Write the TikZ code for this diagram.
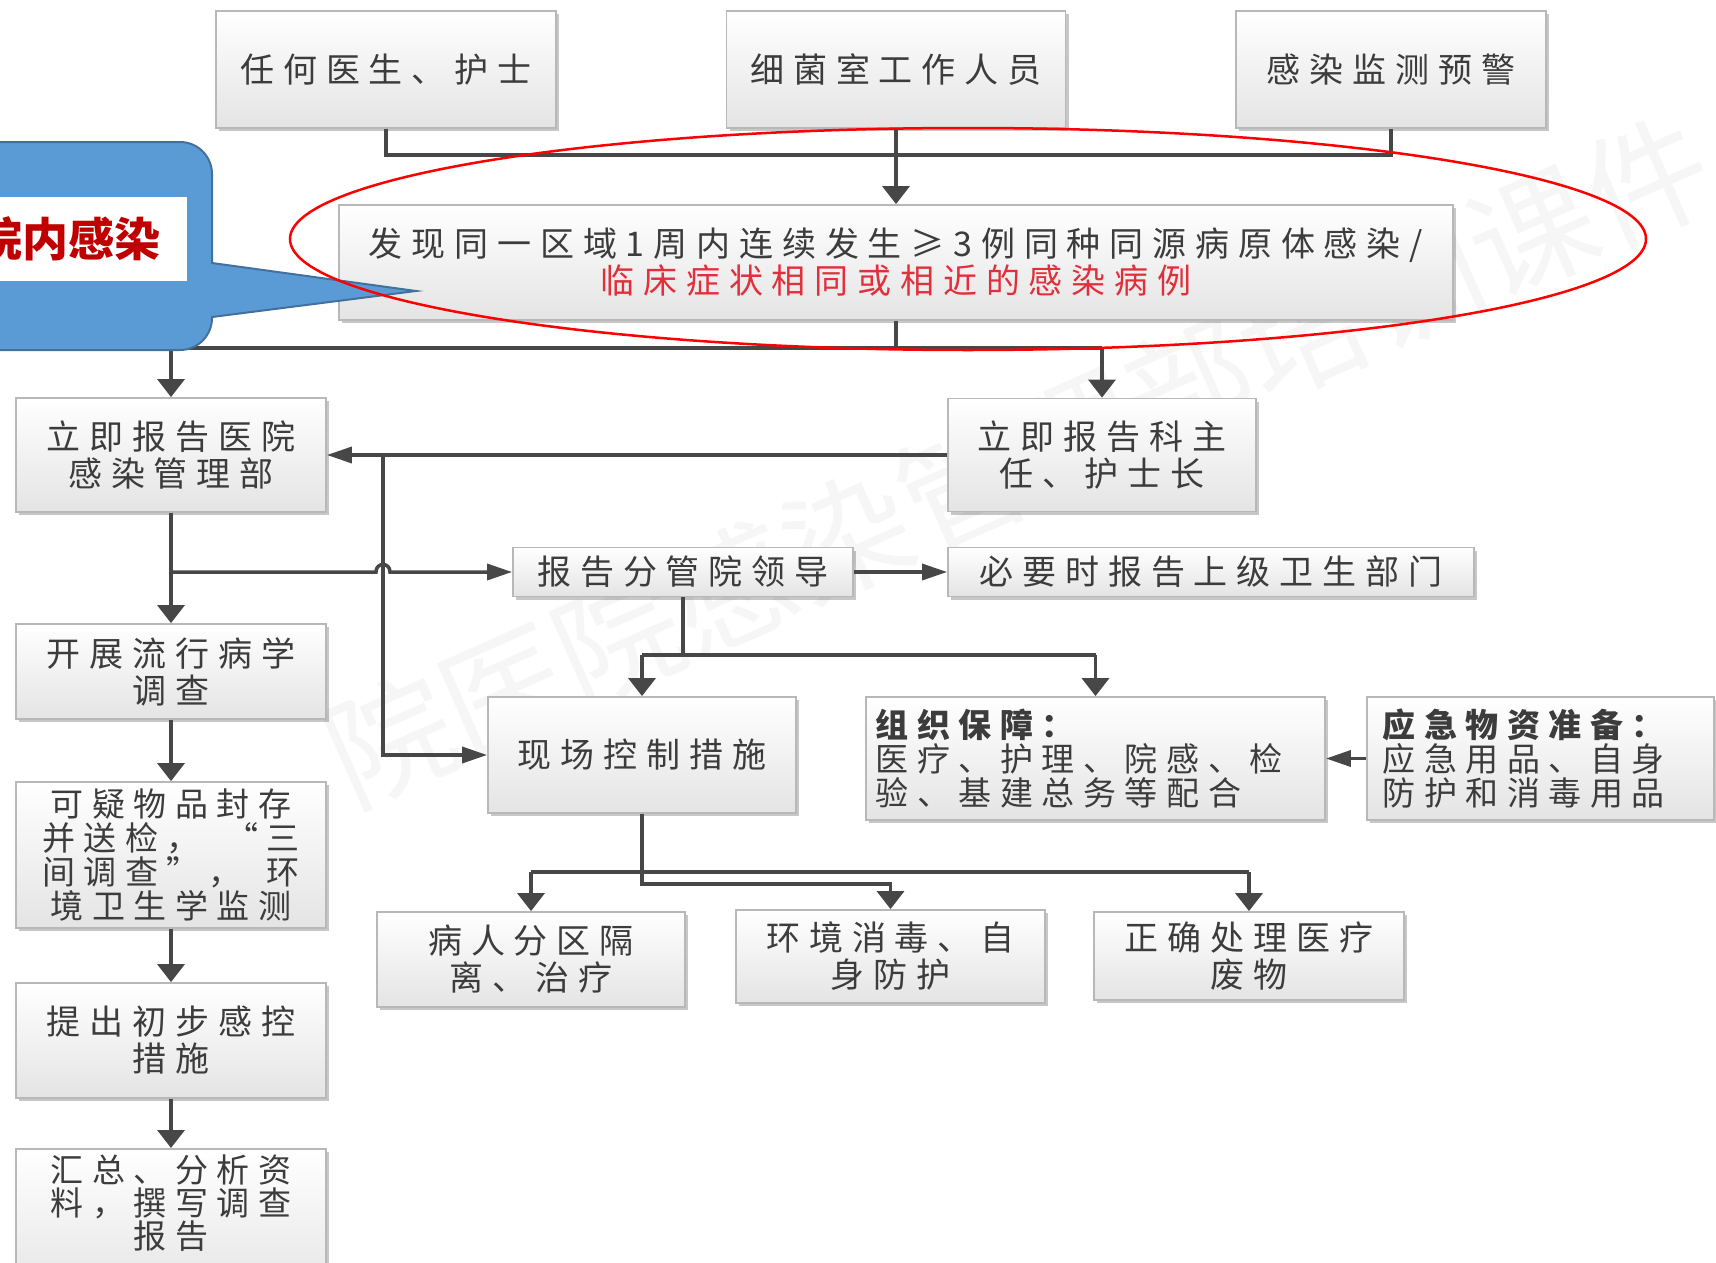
\documentclass[tikz,border=0pt]{standalone}
\usepackage{fontspec}
\setmainfont{Noto Sans CJK SC}
\newfontfamily\cjk{Noto Sans CJK SC}[LetterSpace=26]
\usetikzlibrary{arrows.meta,shadows}
\definecolor{lc}{HTML}{474747}
\definecolor{bd}{HTML}{B8B8B8}
\definecolor{bb}{HTML}{E4E4E4}
\definecolor{tx}{HTML}{3C3C3C}
\definecolor{rtx}{HTML}{E0303C}
\definecolor{cb}{HTML}{5B9BD5}
\definecolor{cbd}{HTML}{41719C}
\definecolor{dred}{HTML}{C00000}
\definecolor{wmc}{HTML}{F6F6F6}
\begin{document}
\begin{tikzpicture}[x=1pt,y=-1pt,
  box/.style={draw=bd, line width=1.8pt, top color=white, bottom color=bb,
    drop shadow={shadow xshift=3pt, shadow yshift=-3pt, opacity=0.22, fill=black},
    text=tx, align=center, inner sep=0pt, font={\cjk\fontsize{34}{37}\selectfont}},
  txt/.style={text=tx, align=center, inner sep=0pt, font={\cjk\fontsize{33}{33}\selectfont}},
  line/.style={draw=lc, line width=3.5pt},
  varr/.style={line, -{Triangle[length=18pt,width=27pt]}},
  harr/.style={line, -{Triangle[length=25pt,width=16pt]}}]
\useasboundingbox (0,0) rectangle (1716,1263);
\fill[white] (0,0) rectangle (1716,1263);
\clip (0,0) rectangle (1716,1263);
% watermark
\node[rotate=24, text=wmc, font={\fontsize{125}{125}\selectfont}, inner sep=0pt] (wmk) at (1018,460) {院医院感染管理部培训课件};
% top boxes
\node[box, minimum width=340, minimum height=117] (A) at (386,69.5) {任何医生、护士};
\node[box, minimum width=339, minimum height=117] (B) at (896,69.5) {细菌室工作人员};
\node[box, minimum width=310, minimum height=117] (C) at (1391,69.5) {感染监测预警};
% main box
\node[box, minimum width=1114, minimum height=115, font={\cjk\fontsize{34}{37}\selectfont}] (M) at (896,262.5)
  {发现同一区域1周内连续发生≥3例同种同源病原体感染/\\{\color{rtx}临床症状相同或相近的感染病例}};
% left column
\node[box, minimum width=310, minimum height=114] (L1) at (171,455) {立即报告医院\\感染管理部};
\node[box, minimum width=310, minimum height=95] (L2) at (171,671.5) {开展流行病学\\调查};
\node[box, minimum width=310, minimum height=146, font={\cjk\fontsize{33}{34}\selectfont}] (L3) at (171,855)
  {可疑物品封存\\\makebox[258pt][l]{并送检，\hfill{}“三}\\\makebox[258pt][l]{间调查”，\hfill{}环}\\境卫生学监测};
\node[box, minimum width=310, minimum height=115] (L4) at (171,1040.5) {提出初步感控\\措施};
\node[box, minimum width=310, minimum height=150, anchor=north] (L5) at (171,1148) {};
\node[txt] (L5t) at (171,1203) {汇总、分析资\\料，撰写调查\\报告};
% right side
\node[box, minimum width=308, minimum height=113] (K) at (1102,455) {立即报告科主\\任、护士长};
\node[box, minimum width=340, minimum height=49] (R) at (683,572) {报告分管院领导};
\node[box, minimum width=526, minimum height=49] (S) at (1211,572) {必要时报告上级卫生部门};
\node[box, minimum width=308, minimum height=116] (X) at (642,755) {现场控制措施};
\node[box, minimum width=459, minimum height=123, text width=440pt, align=left, font={\cjk\fontsize{33}{34}\selectfont}] (O) at (1095.5,758.5)
  {{\bfseries 组织保障：}\\医疗、护理、院感、检\\验、基建总务等配合};
\node[box, minimum width=347, minimum height=123, text width=316pt, align=left, font={\cjk\fontsize{33}{34}\selectfont}] (E) at (1540.5,758.5)
  {{\bfseries 应急物资准备：}\\应急用品、自身\\防护和消毒用品};
\node[box, minimum width=308, minimum height=95] (P1) at (531,959.5) {病人分区隔\\离、治疗};
\node[box, minimum width=309, minimum height=93] (P2) at (890.5,956.5) {环境消毒、自\\身防护};
\node[box, minimum width=310, minimum height=88] (P3) at (1249,956) {正确处理医疗\\废物};
% connectors: top
\coordinate (tj) at (896,155);
\draw[line] (A.south) |- (tj) -| (C.south);
\draw[varr] (B.south) -- (M.north);
% below main box
\coordinate (mj) at (896,348);
\coordinate (mjL) at (L1.north |- mj);
\coordinate (mjK) at (K.north |- mj);
\draw[line] (M.south) -- (mj);
\draw[line] (mjL) -- (mjK);
\draw[varr] (mjL) -- (L1.north);
\draw[varr] (mjK) -- (K.north);
% K to L1 and branch to X
\draw[harr] (K.west) -- (L1.east);
\coordinate (v1) at (383,455);
\draw[harr] (v1) |- (X.west);
% left column chain
\draw[varr] (L1.south) -- (L2.north);
\draw[varr] (L2.south) -- (L3.north);
\draw[varr] (L3.south) -- (L4.north);
\draw[varr] (L4.south) -- (L5.north);
% branch to R with hop
\coordinate (b1) at (L1.south |- R.west);
\draw[harr] (b1) -- (376,572) .. controls (376,562) and (390,562) .. (390,572) -- (R.west);
\draw[harr] (R.east) -- (S.west);
% R down to X and O
\coordinate (rj) at (R.south |- 0,655);
\coordinate (rjX) at (X.north |- rj);
\coordinate (rjO) at (O.north |- rj);
\draw[line] (R.south) -- (rj);
\draw[line] (rjX) -- (rjO);
\draw[varr] (rjX) -- (X.north);
\draw[varr] (rjO) -- (O.north);
\draw[harr] (E.west) -- (O.east);
% X down to bottom boxes
\coordinate (xj) at (X.south |- 0,884);
\draw[varr] (X.south) -- (xj) -| (P2.north);
\coordinate (hy) at (0,872);
\coordinate (h1) at (P1.north |- hy);
\coordinate (h3) at (P3.north |- hy);
\draw[line] (h1) -- (h3);
\draw[varr] (h1) -- (P1.north);
\draw[varr] (h3) -- (P3.north);
% callout
\filldraw[fill=cb, draw=cbd, line width=2pt] (-80,142) -- (180,142) arc(-90:0:32) -- (212,263) -- (416,291) -- (212,317) -- (212,318) arc(0:90:32) -- (-80,350) -- cycle;
\fill[white] (0,197) rectangle (187,281);
\node[anchor=east, text=dred, font={\bfseries\fontsize{46}{46}\selectfont}, inner sep=0pt] (ck) at (161,239) {院内感染};
% red ellipse
\draw[red, line width=2.5pt] (968,239) ellipse [x radius=678, y radius=111];
\end{tikzpicture}
\end{document}
